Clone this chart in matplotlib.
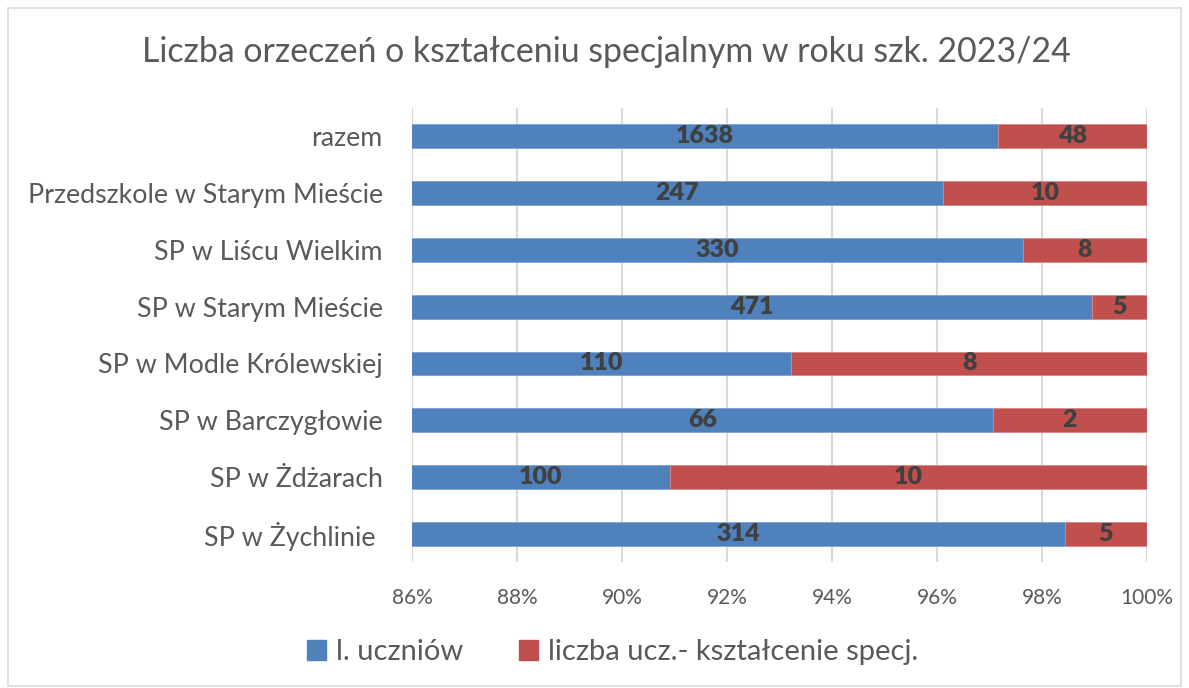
import numpy as np
import matplotlib.pyplot as plt
from matplotlib.patches import Rectangle
from matplotlib.ticker import FuncFormatter

plt.rcParams['font.family'] = ['Lato', 'DejaVu Sans']

categories = ["razem", "Przedszkole w Starym Mieście", "SP w Liścu Wielkim",
              "SP w Starym Mieście", "SP w Modle Królewskiej", "SP w Barczygłowie",
              "SP w Żdżarach", "SP w Żychlinie "]
uczniow = [1638, 247, 330, 471, 110, 66, 100, 314]
specj = [48, 10, 8, 5, 8, 2, 10, 5]
series_names = ["l. uczniów", "liczba ucz.- kształcenie specj."]
ticks = [0.86, 0.88, 0.90, 0.92, 0.94, 0.96, 0.98, 1.00]

blue = "#4F81BD"
red = "#C0504D"
txt = "#595959"

u = np.array(uczniow, dtype=float)
s = np.array(specj, dtype=float)
tot = u + s
fu = u / tot
fs = s / tot
y = np.arange(len(categories))[::-1]

fig = plt.figure(figsize=(11.89, 6.88), dpi=100)
ax = fig.add_axes([0.3465, 0.183, 0.6182, 0.66])

ax.barh(y, fu, height=0.42, color=blue, edgecolor="#7EA3D3", linewidth=0.6, zorder=3)
ax.barh(y, fs, left=fu, height=0.42, color=red, edgecolor="#D88A88", linewidth=0.6, zorder=3)

# labels sit in the middle of the visible part of each segment
xmin, xmax = 0.86, 1.0
for yi, a, b, va, vb in zip(y, fu, fs, uczniow, specj):
    ax.text((xmin + a) / 2, yi, str(va), ha="center", va="center",
            fontsize=18, fontweight="heavy", color="#404040", zorder=4)
    ax.text((a + a + b) / 2, yi, str(vb), ha="center", va="center",
            fontsize=18, fontweight="heavy", color="#404040", zorder=4)

ax.set_xlim(xmin, xmax)
ax.set_ylim(-0.5, len(categories) - 0.5)
ax.set_xticks(ticks)
ax.xaxis.set_major_formatter(FuncFormatter(lambda v, p: f"{round(v * 100)}%"))
ax.set_yticks(y)
ax.set_yticklabels(categories)
ax.tick_params(axis="y", length=0, pad=21, labelsize=19.3, labelcolor=txt)
ax.tick_params(axis="x", length=0, pad=19, labelsize=15, labelcolor=txt)
ax.grid(axis="x", color="#D9D9D9", linewidth=1.5, zorder=0)
for sp in ax.spines.values():
    sp.set_visible(False)

fig.text(0.51, 0.924, "Liczba orzeczeń o kształceniu specjalnym w roku szk. 2023/24",
         ha="center", va="center", fontsize=24.4, color=txt)

handles = [Rectangle((0, 0), 1, 1, color=blue), Rectangle((0, 0), 1, 1, color=red)]
fig.legend(handles, series_names, loc="center", bbox_to_anchor=(0.515, 0.052), ncol=2,
           frameon=False, fontsize=21, labelcolor=txt, handlelength=0.65, handleheight=0.65,
           handletextpad=0.35, columnspacing=1.9)

fig.patches.append(Rectangle((8 / 1189, 2 / 688), 1173 / 1189, 678 / 688, transform=fig.transFigure,
                             fill=False, edgecolor="#D9D9D9", linewidth=1.2))

fig.savefig("out.png", dpi=100)
